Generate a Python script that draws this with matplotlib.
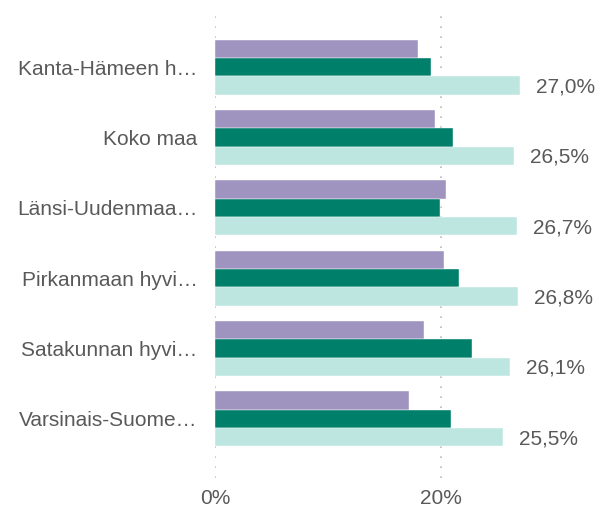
import matplotlib
matplotlib.use("Agg")
import matplotlib.pyplot as plt
import numpy as np

plt.rcParams['font.family'] = ['Liberation Sans', 'DejaVu Sans']

categories = ["Kanta-Hämeen h…", "Koko maa", "Länsi-Uudenmaa…", "Pirkanmaan hyvi…",
              "Satakunnan hyvi…", "Varsinais-Suome…"]
series_a = [18.0, 19.5, 20.4, 20.3, 18.5, 17.2]   # purple
series_b = [19.1, 21.1, 19.9, 21.6, 22.7, 20.9]   # dark green
series_c = [27.0, 26.5, 26.7, 26.8, 26.1, 25.5]   # light teal (labelled)
c_labels = ["27,0%", "26,5%", "26,7%", "26,8%", "26,1%", "25,5%"]
xticks = [0, 20]
xticklabels = ["0%", "20%"]

colors = ["#9e94bf", "#007f6a", "#bde6e0"]
text_col = "#595959"
fs = 15

W, H = 598, 508
fig = plt.figure(figsize=(W / 100, H / 100), dpi=100)
left, right = 215 / W, 598 / W
top, bottom = 1 - 13 / H, 1 - 478 / H
ax = fig.add_axes([left, bottom, right - left, top - bottom])

n = len(categories)
y = np.arange(n)
bh = 0.26
for i, (vals, col) in enumerate(zip([series_a, series_b, series_c], colors)):
    ax.barh(y + (i - 1) * bh, vals, height=bh, color=col, edgecolor="white", linewidth=0.3)

for yi, v, lab in zip(y, series_c, c_labels):
    ax.text(v + 1.4, yi + bh + 0.02, lab, va="center", ha="left", fontsize=fs, color=text_col)

ax.set_ylim(n - 1 + 0.84, -0.77)
ax.set_xlim(0, (598 - 215) / 11.3)
ax.set_yticks(y)
ax.set_yticklabels(categories, fontsize=fs, color=text_col)
ax.set_xticks(xticks)
ax.set_xticklabels(xticklabels, fontsize=fs, color=text_col)
ax.tick_params(axis="both", length=0)
ax.tick_params(axis="y", pad=12.5)
ax.tick_params(axis="x", pad=8)
for s in ax.spines.values():
    s.set_visible(False)
ax.grid(axis="x", color="#bbbbbb", linestyle=(0, (1, 5)), linewidth=1.2)
ax.set_axisbelow(True)

fig.savefig("out.png", dpi=100)
